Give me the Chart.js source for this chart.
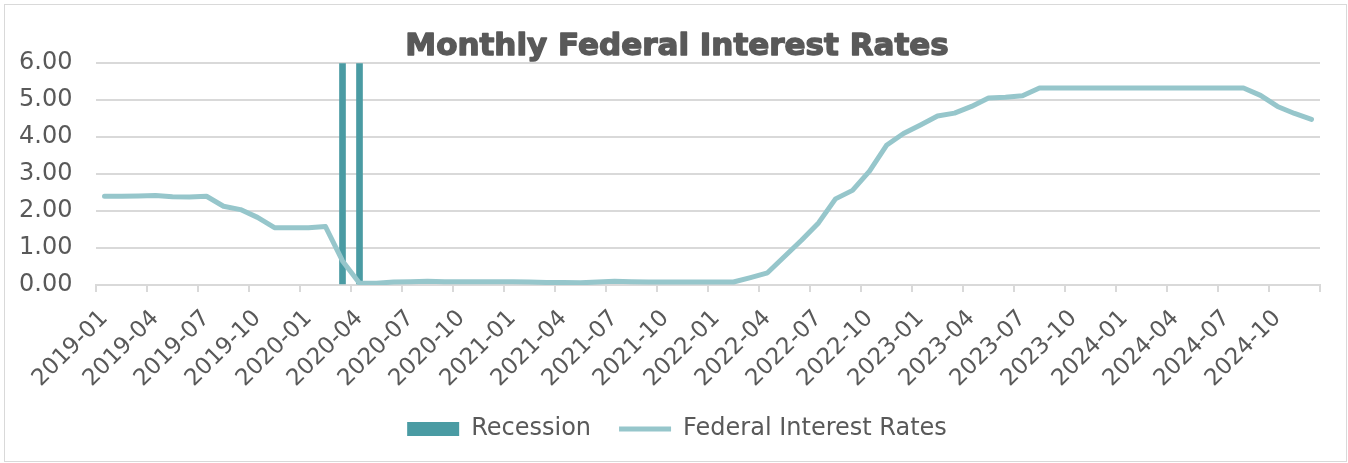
<!DOCTYPE html>
<html>
<head>
<meta charset="utf-8">
<title>Monthly Federal Interest Rates</title>
<script src="https://cdn.jsdelivr.net/npm/chart.js@4.4.1/dist/chart.umd.min.js"></script>
<style>
  html, body { margin: 0; padding: 0; background: #ffffff; }
  body { width: 1348px; height: 463px; position: relative; overflow: hidden; }
  .frame {
    position: absolute; left: 4px; top: 4px; width: 1343px; height: 458px;
    box-sizing: border-box; border: 1.5px solid #d9d9d9;
  }
  #chart { position: absolute; left: 0; top: 0; }
</style>
</head>
<body>
<div class="frame"></div>
<canvas id="chart" width="1348" height="463"></canvas>
<script>
// Monthly categories, 2019-01 .. 2024-12
const months = [];
for (let y = 2019; y <= 2024; y++) {
  for (let m = 1; m <= 12; m++) months.push(y + '-' + String(m).padStart(2, '0'));
}

// Effective federal funds rate, monthly average (%)
const fedRates = [
  2.40, 2.40, 2.41, 2.42, 2.39, 2.38, 2.40, 2.13, 2.04, 1.83, 1.55, 1.55,
  1.55, 1.58, 0.65, 0.05, 0.05, 0.08, 0.09, 0.10, 0.09, 0.09, 0.09, 0.09,
  0.09, 0.08, 0.07, 0.07, 0.06, 0.08, 0.10, 0.09, 0.08, 0.08, 0.08, 0.08,
  0.08, 0.08, 0.20, 0.33, 0.77, 1.21, 1.68, 2.33, 2.56, 3.08, 3.78, 4.10,
  4.33, 4.57, 4.65, 4.83, 5.06, 5.08, 5.12, 5.33, 5.33, 5.33, 5.33, 5.33,
  5.33, 5.33, 5.33, 5.33, 5.33, 5.33, 5.33, 5.33, 5.13, 4.83, 4.64, 4.48
];

// Recession months, drawn as full-height bars
const recessionMonths = ['2020-03', '2020-04'];
const recessionLevel = 6;
const recession = months.map(m => recessionMonths.includes(m) ? recessionLevel : null);

// Y axis range
const yMin = 0;
const yMax = 6;
const yStep = 1;

const TEXT_COLOR = '#595959';
const GRID_COLOR = '#d9d9d9';
const RECESSION_COLOR = '#4a9ba3';
const RATE_COLOR = '#96c6cb';
const FONT = 'DejaVu Sans';
const TITLE_PAD_TOP = 28;

// Heavier title: re-stroke the title text over the normal bold fill
const titleStroke = {
  id: 'titleStroke',
  afterDraw(chart) {
    const t = chart.titleBlock;
    if (!t || !t.options.display) return;
    const f = Chart.helpers.toFont(t.options.font);
    const ctx = chart.ctx;
    ctx.save();
    ctx.font = f.string;
    ctx.textAlign = 'center';
    ctx.textBaseline = 'middle';
    ctx.strokeStyle = t.options.color;
    ctx.lineWidth = 1.4;
    ctx.lineJoin = 'round';
    ctx.strokeText(t.options.text, (t.left + t.right) / 2, t.top + TITLE_PAD_TOP + f.lineHeight / 2);
    ctx.restore();
  }
};

new Chart(document.getElementById('chart'), {
  type: 'bar',
  data: {
    labels: months,
    datasets: [
      {
        label: 'Recession',
        data: recession,
        backgroundColor: RECESSION_COLOR,
        borderWidth: 0,
        barThickness: 6,
        pointStyle: 'rect',
        order: 2
      },
      {
        type: 'line',
        label: 'Federal Interest Rates',
        data: fedRates,
        borderColor: RATE_COLOR,
        backgroundColor: RATE_COLOR,
        borderWidth: 5,
        borderCapStyle: 'round',
        borderJoinStyle: 'round',
        pointRadius: 0,
        pointStyle: 'line',
        tension: 0,
        order: 1
      }
    ]
  },
  plugins: [titleStroke],
  options: {
    responsive: false,
    animation: false,
    devicePixelRatio: 1,
    layout: { padding: { top: 0, left: 34, right: 28, bottom: 12 } },
    plugins: {
      tooltip: { enabled: false },
      title: {
        display: true,
        text: 'Monthly Federal Interest Rates',
        color: TEXT_COLOR,
        font: { family: FONT, size: 31, weight: 'bold' },
        padding: { top: TITLE_PAD_TOP, bottom: -2 }
      },
      legend: {
        display: true,
        position: 'bottom',
        labels: {
          color: TEXT_COLOR,
          font: { family: FONT, size: 24 },
          usePointStyle: true,
          pointStyleWidth: 52,
          boxHeight: 14,
          padding: 28,
          sort: (a, b) => a.datasetIndex - b.datasetIndex
        }
      }
    },
    scales: {
      x: {
        offset: true,
        grid: {
          offset: true,
          drawOnChartArea: false,
          drawTicks: true,
          tickLength: 7,
          lineWidth: 2,
          // tick marks only between quarters
          color: (c) => (c.index === undefined || c.index % 3 === 0) ? GRID_COLOR : 'rgba(0,0,0,0)'
        },
        border: { display: true, color: GRID_COLOR, width: 2 },
        ticks: {
          autoSkip: false,
          minRotation: 45,
          maxRotation: 45,
          padding: 13,
          color: TEXT_COLOR,
          font: { family: FONT, size: 23 },
          callback: (v, i) => i % 3 === 0 ? months[i] : ''
        },
        afterFit: (s) => { s.height = 104; }
      },
      y: {
        min: yMin,
        max: yMax,
        grid: { color: GRID_COLOR, lineWidth: 2, drawTicks: false },
        border: { display: false },
        ticks: {
          stepSize: yStep,
          // mirrored + negative padding keeps labels left of the plot without clipping
          mirror: true,
          padding: -77,
          color: TEXT_COLOR,
          font: { family: FONT, size: 24 },
          callback: (v) => Number(v).toFixed(2)
        },
        afterFit: (s) => { s.width = 62; }
      }
    }
  }
});
</script>
</body>
</html>
